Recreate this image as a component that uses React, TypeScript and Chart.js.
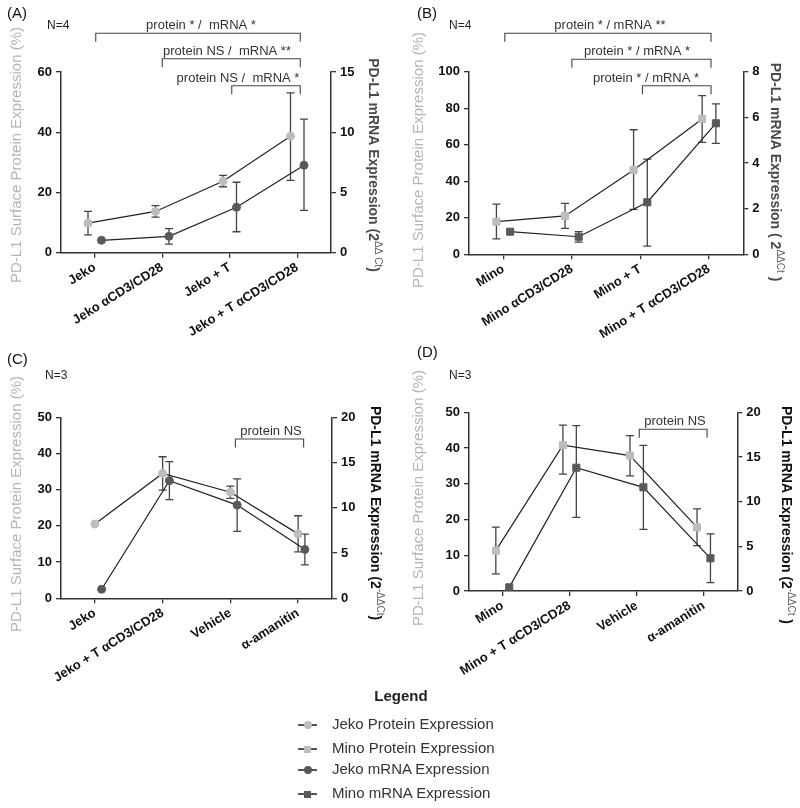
import React, { useEffect, useRef } from 'react';
import { Chart, registerables } from 'chart.js';

Chart.register(...registerables);

const FONT = '"Liberation Sans", Arial, Helvetica, sans-serif';

// ---------- Panel A (Jeko) ----------
const labelsA = ['Jeko', 'Jeko αCD3/CD28', 'Jeko + T', 'Jeko + T αCD3/CD28'];
const proteinA = [9.8, 13.7, 23.7, 38.7];
const proteinHiA = [13.7, 15.6, 25.7, 53.1];
const proteinLoA = [5.9, 11.8, 21.9, 24.0];
const mrnaA = [1.03, 1.36, 3.77, 7.26];
const mrnaHiA: (number | null)[] = [null, 2.0, 5.85, 11.08];
const mrnaLoA: (number | null)[] = [null, 0.72, 1.74, 3.52];
const leftAxisA = { max: 60, step: 20 };
const rightAxisA = { max: 15, step: 5 };

// ---------- Panel B (Mino) ----------
const labelsB = ['Mino', 'Mino αCD3/CD28', 'Mino + T', 'Mino + T αCD3/CD28'];
const proteinB = [17.9, 21.0, 46.2, 74.1];
const proteinHiB = [27.5, 27.9, 68.2, 86.9];
const proteinLoB = [8.4, 14.2, 24.6, 61.3];
const mrnaB = [0.99, 0.77, 2.28, 5.74];
const mrnaHiB: (number | null)[] = [null, 0.99, 4.17, 6.59];
const mrnaLoB: (number | null)[] = [null, 0.53, 0.36, 4.86];
const leftAxisB = { max: 100, step: 20 };
const rightAxisB = { max: 8, step: 2 };

// ---------- Panel C (Jeko, amanitin) ----------
const labelsC = ['Jeko', 'Jeko + T αCD3/CD28', 'Vehicle', 'α-amanitin'];
const proteinC = [20.5, 34.5, 29.3, 17.8];
const proteinHiC: (number | null)[] = [null, 39.1, 31.0, 22.8];
const proteinLoC: (number | null)[] = [null, 29.9, 27.6, 12.8];
const mrnaC = [1.0, 13.0, 10.3, 5.4];
const mrnaHiC: (number | null)[] = [null, 15.1, 13.2, 7.1];
const mrnaLoC: (number | null)[] = [null, 10.9, 7.4, 3.7];
const leftAxisC = { max: 50, step: 10 };
const rightAxisC = { max: 20, step: 5 };

// ---------- Panel D (Mino, amanitin) ----------
const labelsD = ['Mino', 'Mino + T αCD3/CD28', 'Vehicle', 'α-amanitin'];
const proteinD = [11.3, 40.8, 37.9, 17.8];
const proteinHiD = [17.9, 46.4, 43.5, 23.0];
const proteinLoD = [4.8, 32.7, 32.2, 12.7];
const mrnaD = [0.41, 13.8, 11.6, 3.66];
const mrnaHiD: (number | null)[] = [null, 18.5, 16.3, 6.4];
const mrnaLoD: (number | null)[] = [null, 8.25, 6.9, 0.93];
const leftAxisD = { max: 50, step: 10 };
const rightAxisD = { max: 20, step: 5 };

// ---------- Legend ----------
const legendTitle = 'Legend';
const legendItems = [
  { text: 'Jeko Protein Expression', shape: 'circle', color: '#bdbdbd' },
  { text: 'Mino Protein Expression', shape: 'rect', color: '#bdbdbd' },
  { text: 'Jeko mRNA Expression', shape: 'circle', color: '#595959' },
  { text: 'Mino mRNA Expression', shape: 'rect', color: '#595959' },
];

const PROT_COLOR = '#bdbdbd';
const MRNA_COLOR = '#595959';
const LEFT_TITLE = 'PD-L1 Surface Protein Expression (%)';

type Bracket = { from: number; to: number; y: number; dx1: number; dx2: number; label: string; lx: number };
type Part = { t: string; sup?: boolean };

type Panel = {
  key: string;
  left: number; top: number; width: number; height: number;
  area: { l: number; r: number; t: number; b: number };
  labels: string[];
  protein: number[]; proteinHi: (number | null)[]; proteinLo: (number | null)[];
  mrna: number[]; mrnaHi: (number | null)[]; mrnaLo: (number | null)[];
  protOff: number; mrnaOff: number;
  shape: 'circle' | 'rect';
  leftAxis: { max: number; step: number };
  rightAxis: { max: number; step: number };
  tag: string; tagPos: [number, number];
  nText: string; nPos: [number, number];
  leftTitlePos: [number, number];
  rightTitle: Part[]; rightTitlePos: [number, number]; rightTitleColor: string;
  brackets: Bracket[];
};

const panels: Panel[] = [
  {
    key: 'A', left: 0, top: 0, width: 400, height: 360,
    area: { l: 61, r: 331, t: 72, b: 252.7 },
    labels: labelsA, protein: proteinA, proteinHi: proteinHiA, proteinLo: proteinLoA,
    mrna: mrnaA, mrnaHi: mrnaHiA, mrnaLo: mrnaLoA,
    protOff: -0.1, mrnaOff: 0.1, shape: 'circle',
    leftAxis: leftAxisA, rightAxis: rightAxisA,
    tag: '(A)', tagPos: [7, 18], nText: 'N=4', nPos: [47, 29],
    leftTitlePos: [17, 155],
    rightTitle: [{ t: 'PD-L1 mRNA Expression (2' }, { t: 'ΔΔ Ct', sup: true }, { t: ')' }],
    rightTitlePos: [373, 165], rightTitleColor: '#4a4a4a',
    brackets: [
      { from: 0, to: 3, y: 33.3, dx1: 1, dx2: 3, label: 'protein * /  mRNA *', lx: 201 },
      { from: 1, to: 3, y: 58.7, dx1: 0, dx2: 3, label: 'protein NS /  mRNA **', lx: 227 },
      { from: 2, to: 3, y: 85.7, dx1: 2, dx2: 3, label: 'protein NS /  mRNA *', lx: 238 },
    ],
  },
  {
    key: 'B', left: 400, top: 0, width: 400, height: 360,
    area: { l: 469, r: 743.3, t: 71.7, b: 254.3 },
    labels: labelsB, protein: proteinB, proteinHi: proteinHiB, proteinLo: proteinLoB,
    mrna: mrnaB, mrnaHi: mrnaHiB, mrnaLo: mrnaLoB,
    protOff: -0.1, mrnaOff: 0.1, shape: 'rect',
    leftAxis: leftAxisB, rightAxis: rightAxisB,
    tag: '(B)', tagPos: [417, 18], nText: 'N=4', nPos: [449, 29],
    leftTitlePos: [419, 160],
    rightTitle: [{ t: 'PD-L1 mRNA Expression ( 2' }, { t: 'ΔΔCt', sup: true }, { t: ' )' }],
    rightTitlePos: [775, 172], rightTitleColor: '#4a4a4a',
    brackets: [
      { from: 0, to: 3, y: 33.3, dx1: 1.5, dx2: 2, label: 'protein * / mRNA **', lx: 610 },
      { from: 1, to: 3, y: 59.3, dx1: 0, dx2: 2, label: 'protein * / mRNA *', lx: 637 },
      { from: 2, to: 3, y: 85.7, dx1: 2, dx2: 2, label: 'protein * / mRNA *', lx: 646 },
    ],
  },
  {
    key: 'C', left: 0, top: 340, width: 400, height: 360,
    area: { l: 61, r: 332, t: 417.3, b: 598.3 },
    labels: labelsC, protein: proteinC, proteinHi: proteinHiC, proteinLo: proteinLoC,
    mrna: mrnaC, mrnaHi: mrnaHiC, mrnaLo: mrnaLoC,
    protOff: 0, mrnaOff: 0.1, shape: 'circle',
    leftAxis: leftAxisC, rightAxis: rightAxisC,
    tag: '(C)', tagPos: [7, 364], nText: 'N=3', nPos: [45, 379],
    leftTitlePos: [17, 504],
    rightTitle: [{ t: 'PD-L1 mRNA Expression (2' }, { t: '-ΔΔCt', sup: true }, { t: ')' }],
    rightTitlePos: [375, 513], rightTitleColor: '#111',
    brackets: [
      { from: 2, to: 3, y: 439, dx1: 5, dx2: 5.5, label: 'protein NS', lx: 271 },
    ],
  },
  {
    key: 'D', left: 400, top: 340, width: 400, height: 360,
    area: { l: 469, r: 737.3, t: 412.3, b: 591 },
    labels: labelsD, protein: proteinD, proteinHi: proteinHiD, proteinLo: proteinLoD,
    mrna: mrnaD, mrnaHi: mrnaHiD, mrnaLo: mrnaLoD,
    protOff: -0.1, mrnaOff: 0.1, shape: 'rect',
    leftAxis: leftAxisD, rightAxis: rightAxisD,
    tag: '(D)', tagPos: [417, 357], nText: 'N=3', nPos: [449, 379],
    leftTitlePos: [419, 498],
    rightTitle: [{ t: 'PD-L1 mRNA Expression (2' }, { t: '-ΔΔCt', sup: true }, { t: ' )' }],
    rightTitlePos: [786, 515], rightTitleColor: '#111',
    brackets: [
      { from: 2, to: 3, y: 429.3, dx1: 2.6, dx2: 3.3, label: 'protein NS', lx: 675 },
    ],
  },
];

function makeChart(canvas: HTMLCanvasElement, p: Panel) {
  const X = (v: number) => v - p.left;
  const Y = (v: number) => v - p.top;

  const decor = {
    id: 'decor' + p.key,
    beforeDatasetsDraw(chart: any) {
      const ctx = chart.ctx as CanvasRenderingContext2D;
      ctx.save();
      ctx.strokeStyle = '#444';
      ctx.lineWidth = 1.3;
      chart.data.datasets.forEach((ds: any, di: number) => {
        const meta = chart.getDatasetMeta(di);
        const scale = chart.scales[meta.yAxisID];
        meta.data.forEach((pt: any, j: number) => {
          const hi = ds.errHi[j];
          const lo = ds.errLo[j];
          if (hi == null || lo == null) return;
          const x = pt.x;
          const yh = scale.getPixelForValue(hi);
          const yl = scale.getPixelForValue(lo);
          ctx.beginPath();
          ctx.moveTo(x, yh); ctx.lineTo(x, yl);
          ctx.moveTo(x - 4, yh); ctx.lineTo(x + 4, yh);
          ctx.moveTo(x - 4, yl); ctx.lineTo(x + 4, yl);
          ctx.stroke();
        });
      });
      ctx.restore();
    },
    afterDraw(chart: any) {
      const ctx = chart.ctx as CanvasRenderingContext2D;
      const xs = chart.scales.x;
      ctx.save();
      // panel tag
      ctx.fillStyle = '#111';
      ctx.textAlign = 'left';
      ctx.textBaseline = 'alphabetic';
      ctx.font = `15px ${FONT}`;
      ctx.fillText(p.tag, X(p.tagPos[0]), Y(p.tagPos[1]));
      ctx.font = `12px ${FONT}`;
      ctx.fillStyle = '#222';
      ctx.fillText(p.nText, X(p.nPos[0]), Y(p.nPos[1]));
      // brackets
      ctx.strokeStyle = '#444';
      ctx.lineWidth = 1.1;
      ctx.font = `13px ${FONT}`;
      ctx.fillStyle = '#333';
      ctx.textAlign = 'center';
      p.brackets.forEach((b) => {
        const x1 = xs.getPixelForValue(b.from) + b.dx1;
        const x2 = xs.getPixelForValue(b.to) + b.dx2;
        const y = Y(b.y);
        ctx.beginPath();
        ctx.moveTo(x1, y + 8.5); ctx.lineTo(x1, y); ctx.lineTo(x2, y); ctx.lineTo(x2, y + 8.5);
        ctx.stroke();
        ctx.fillText(b.label, X(b.lx), y - 4);
      });
      // left title
      ctx.save();
      ctx.translate(X(p.leftTitlePos[0]), Y(p.leftTitlePos[1]));
      ctx.rotate(-Math.PI / 2);
      ctx.font = `15px ${FONT}`;
      ctx.fillStyle = '#b5b5b5';
      ctx.textAlign = 'center';
      ctx.textBaseline = 'middle';
      ctx.fillText(LEFT_TITLE, 0, 0);
      ctx.restore();
      // right title with superscript
      ctx.save();
      ctx.translate(X(p.rightTitlePos[0]), Y(p.rightTitlePos[1]));
      ctx.rotate(Math.PI / 2);
      ctx.textAlign = 'left';
      ctx.textBaseline = 'middle';
      const mainFont = `bold 14px ${FONT}`;
      const supFont = `10px ${FONT}`;
      let total = 0;
      const widths = p.rightTitle.map((part) => {
        ctx.font = part.sup ? supFont : mainFont;
        const w = ctx.measureText(part.t).width;
        total += w;
        return w;
      });
      let cx = -total / 2;
      p.rightTitle.forEach((part, i) => {
        ctx.font = part.sup ? supFont : mainFont;
        ctx.fillStyle = part.sup ? '#666' : p.rightTitleColor;
        ctx.fillText(part.t, cx, part.sup ? -5 : 0);
        cx += widths[i];
      });
      ctx.restore();
      ctx.restore();
    },
  };

  const leftW = p.area.l - p.left;
  const rightW = p.left + p.width - p.area.r;
  const xH = p.top + p.height - p.area.b;
  const tickFont = { family: FONT, size: 13, weight: 'bold' as const };
  const axisLine = { display: true, color: '#333', width: 1.5 };
  const gridCfg = { drawOnChartArea: false, drawTicks: true, tickLength: 5, color: '#333', lineWidth: 1.3 };

  return new Chart(canvas, {
    type: 'line',
    data: {
      datasets: [
        {
          label: 'protein',
          data: p.protein.map((v, i) => ({ x: i + p.protOff, y: v })),
          yAxisID: 'yL',
          borderColor: '#222',
          borderWidth: 1.2,
          pointStyle: p.shape,
          pointRadius: p.shape === 'rect' ? 5 : 4,
          pointBackgroundColor: PROT_COLOR,
          pointBorderColor: PROT_COLOR,
          pointBorderWidth: 1,
          tension: 0,
          errHi: p.proteinHi,
          errLo: p.proteinLo,
        } as any,
        {
          label: 'mrna',
          data: p.mrna.map((v, i) => ({ x: i + p.mrnaOff, y: v })),
          yAxisID: 'yR',
          borderColor: '#222',
          borderWidth: 1.2,
          pointStyle: p.shape,
          pointRadius: p.shape === 'rect' ? 5 : 4,
          pointBackgroundColor: MRNA_COLOR,
          pointBorderColor: MRNA_COLOR,
          pointBorderWidth: 1,
          tension: 0,
          errHi: p.mrnaHi,
          errLo: p.mrnaLo,
        } as any,
      ],
    },
    options: {
      responsive: false,
      animation: false,
      events: [],
      layout: { padding: { top: p.area.t - p.top, left: 0, right: 0, bottom: 0 } },
      plugins: { legend: { display: false }, tooltip: { enabled: false } },
      scales: {
        x: {
          type: 'linear',
          min: -0.5,
          max: 3.5,
          afterBuildTicks: (s: any) => { s.ticks = p.labels.map((_, i) => ({ value: i })); },
          afterFit: (s: any) => { s.height = xH; },
          ticks: {
            autoSkip: false,
            minRotation: 32,
            maxRotation: 32,
            padding: 2,
            color: '#111',
            font: tickFont,
            callback: (_v: any, i: number) => p.labels[i],
          },
          grid: gridCfg,
          border: axisLine,
        },
        yL: {
          type: 'linear',
          position: 'left',
          min: 0,
          max: p.leftAxis.max,
          afterFit: (s: any) => { s.width = leftW; },
          ticks: { stepSize: p.leftAxis.step, padding: 4, color: '#111', font: tickFont },
          grid: gridCfg,
          border: axisLine,
        },
        yR: {
          type: 'linear',
          position: 'right',
          min: 0,
          max: p.rightAxis.max,
          afterFit: (s: any) => { s.width = rightW; },
          ticks: { stepSize: p.rightAxis.step, padding: 4, color: '#111', font: tickFont },
          grid: gridCfg,
          border: axisLine,
        },
      } as any,
    },
    plugins: [decor],
  });
}

function PanelCanvas({ p }: { p: Panel }) {
  const ref = useRef<HTMLCanvasElement | null>(null);
  useEffect(() => {
    if (!ref.current) return;
    const chart = makeChart(ref.current, p);
    return () => chart.destroy();
  }, [p]);
  return (
    <canvas
      ref={ref}
      width={p.width}
      height={p.height}
      style={{ position: 'absolute', left: p.left, top: p.top, width: p.width, height: p.height }}
    />
  );
}

const legendRowsY = [725, 749, 770, 794];

function Legend() {
  return (
    <>
      <div
        style={{
          position: 'absolute', left: 300, width: 202, top: 687, height: 20, lineHeight: '20px',
          textAlign: 'center', font: `bold 15px ${FONT}`, color: '#222',
        }}
      >
        {legendTitle}
      </div>
      {legendItems.map((it, i) => {
        const cy = legendRowsY[i];
        return (
          <React.Fragment key={it.text}>
            <div style={{ position: 'absolute', left: 298, top: cy - 0.75, width: 19, height: 1.5, background: '#555' }} />
            <div
              style={{
                position: 'absolute',
                left: 307.5 - (it.shape === 'rect' ? 3.5 : 4),
                top: cy - (it.shape === 'rect' ? 3.5 : 4),
                width: it.shape === 'rect' ? 7 : 8,
                height: it.shape === 'rect' ? 7 : 8,
                borderRadius: it.shape === 'rect' ? 0 : '50%',
                background: it.color,
              }}
            />
            <div
              style={{
                position: 'absolute', left: 332, top: cy - 10, height: 20, lineHeight: '20px',
                font: `15px ${FONT}`, color: '#333', whiteSpace: 'nowrap',
              }}
            >
              {it.text}
            </div>
          </React.Fragment>
        );
      })}
    </>
  );
}

export default function App() {
  return (
    <div style={{ position: 'absolute', left: 0, top: 0, width: 800, height: 808, background: '#fff', overflow: 'hidden' }}>
      {panels.map((p) => (
        <PanelCanvas key={p.key} p={p} />
      ))}
      <Legend />
    </div>
  );
}
